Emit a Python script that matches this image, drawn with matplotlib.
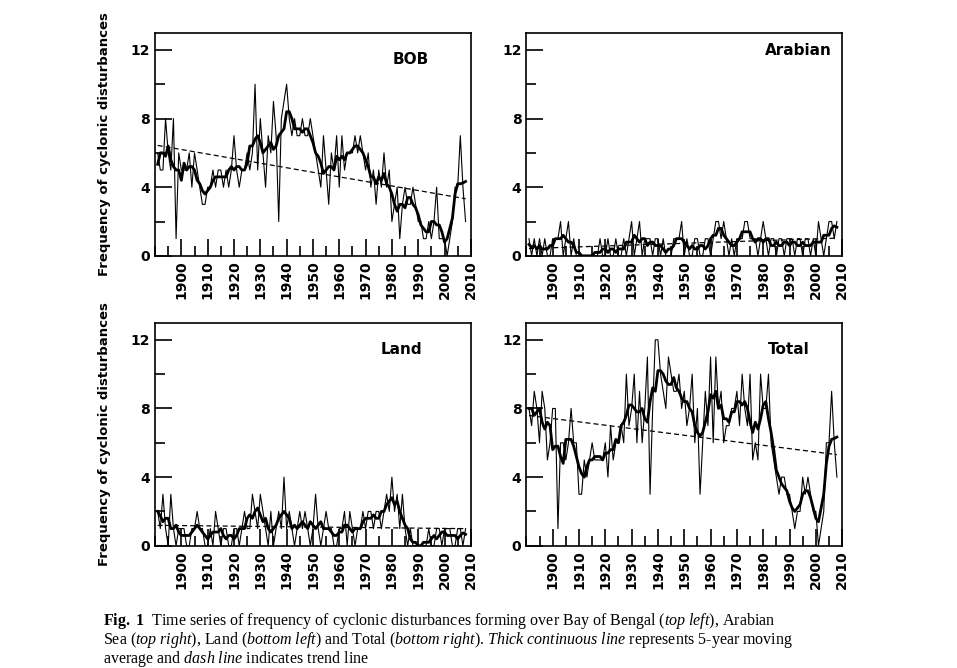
import numpy as np
import pandas as pd
import matplotlib
matplotlib.use('Agg')
import matplotlib.pyplot as plt
from matplotlib.ticker import MultipleLocator

plt.rcParams['mathtext.fontset'] = 'custom'
plt.rcParams['mathtext.rm'] = 'Liberation Serif'
plt.rcParams['mathtext.it'] = 'Liberation Serif:italic'
plt.rcParams['mathtext.bf'] = 'Liberation Serif:bold'

years = np.arange(1891, 2009)

bob = [6, 5, 5, 8, 6, 5, 8, 1, 6, 5,
       5, 5, 6, 4, 6, 5, 4, 3, 3, 4,
       4, 5, 4, 5, 5, 4, 5, 4, 5, 7,
       5, 4, 5, 5, 6, 5, 6, 10, 5, 8,
       6, 4, 7, 6, 9, 7, 2, 8, 9, 10,
       8, 7, 8, 7, 7, 8, 7, 7, 8, 7,
       6, 5, 4, 7, 5, 3, 6, 5, 7, 4,
       7, 5, 6, 6, 6, 7, 6, 7, 6, 5,
       6, 4, 5, 3, 5, 4, 6, 4, 5, 2,
       3, 4, 1, 3, 4, 3, 3, 4, 3, 2,
       2, 1, 1, 2, 1, 2, 4, 1, 1, 1,
       0, 1, 2, 4, 4, 7, 4, 2]
arabian = [1, 0, 1, 0, 1, 0, 1, 0, 0, 1,
           1, 1, 2, 0, 1, 2, 0, 1, 0, 0,
           0, 0, 0, 0, 0, 0, 0, 1, 0, 0,
           1, 0, 0, 1, 0, 0, 1, 0, 1, 2,
           0, 1, 2, 0, 1, 1, 1, 0, 1, 1,
           0, 1, 0, 0, 0, 1, 1, 1, 2, 0,
           1, 0, 0, 1, 1, 0, 0, 1, 1, 0,
           1, 2, 2, 1, 2, 1, 0, 1, 0, 1,
           1, 1, 2, 2, 1, 1, 1, 0, 1, 2,
           1, 0, 1, 1, 0, 1, 1, 0, 1, 1,
           1, 0, 1, 1, 0, 1, 1, 0, 1, 0,
           2, 1, 0, 1, 2, 2, 1, 2]
land = [2, 1, 3, 1, 0, 3, 1, 0, 1, 1,
        1, 0, 0, 1, 1, 2, 1, 1, 0, 0,
        1, 0, 2, 1, 0, 1, 1, 0, 0, 1,
        1, 0, 1, 2, 1, 1, 3, 2, 1, 3,
        2, 1, 0, 2, 0, 1, 2, 1, 4, 1,
        2, 1, 0, 1, 2, 1, 2, 1, 0, 1,
        3, 1, 0, 1, 2, 1, 1, 0, 0, 1,
        1, 2, 0, 2, 1, 0, 1, 1, 2, 1,
        2, 2, 1, 2, 2, 1, 2, 3, 2, 4,
        2, 3, 1, 3, 1, 0, 1, 0, 0, 0,
        0, 0, 0, 1, 0, 0, 1, 1, 0, 1,
        1, 1, 0, 0, 1, 1, 0, 1]
total = [8, 7, 9, 8, 6, 9, 8, 5, 6, 8,
         8, 1, 6, 6, 5, 6, 8, 6, 6, 3,
         3, 5, 4, 5, 6, 5, 5, 5, 5, 6,
         4, 7, 5, 6, 6, 7, 6, 10, 7, 8,
         10, 6, 9, 6, 8, 11, 3, 8, 12, 12,
         10, 9, 8, 11, 10, 9, 9, 10, 8, 9,
         7, 8, 10, 6, 8, 3, 6, 9, 7, 11,
         6, 11, 8, 9, 6, 7, 7, 8, 8, 9,
         7, 10, 8, 7, 10, 5, 6, 5, 10, 8,
         8, 10, 6, 5, 4, 3, 4, 4, 3, 3,
         2, 1, 2, 2, 4, 3, 4, 3, 2, 2,
         0, 1, 2, 6, 6, 9, 6, 4]

panels = [('BOB', bob, 0.162, 0.617, (0.81, 0.88)),
          ('Arabian', arabian, 0.550, 0.617, (0.86, 0.92)),
          ('Land', land, 0.162, 0.183, (0.78, 0.88)),
          ('Total', total, 0.550, 0.183, (0.83, 0.88))]

fig = plt.figure(figsize=(9.57, 6.68), dpi=100)
for name, vals, x0, y0, lpos in panels:
    ax = fig.add_axes([x0, y0, 0.330, 0.334])
    v = np.array(vals, dtype=float)
    ma = pd.Series(v).rolling(5, center=True, min_periods=1).mean()
    p = np.polyfit(years, v, 1)
    ax.plot(years, v, color='black', lw=0.8)
    ax.plot(years, ma, color='black', lw=2.0)
    ax.plot(years, np.polyval(p, years), color='black', lw=0.9, ls=(0, (4, 2.5)))
    ax.set_xlim(1890, 2010)
    ax.set_ylim(0, 13)
    ax.xaxis.set_major_locator(MultipleLocator(10))
    ax.xaxis.set_minor_locator(MultipleLocator(5))
    ax.yaxis.set_major_locator(MultipleLocator(4))
    ax.yaxis.set_minor_locator(MultipleLocator(2))
    ax.set_xticks(np.arange(1900, 2011, 10))
    ax.tick_params(axis='x', which='major', direction='in', length=12, width=1.2, top=False)
    ax.tick_params(axis='x', which='minor', direction='in', length=7, width=1.2)
    ax.tick_params(axis='y', which='major', direction='in', length=12, width=1.2)
    ax.tick_params(axis='y', which='minor', direction='in', length=7, width=1.2)
    for lab in ax.get_xticklabels():
        lab.set_rotation(90)
        lab.set_fontweight('bold')
        lab.set_fontsize(10)
    for lab in ax.get_yticklabels():
        lab.set_fontweight('bold')
        lab.set_fontsize(10)
    for s in ax.spines.values():
        s.set_linewidth(1.2)
    ax.text(lpos[0], lpos[1], name, transform=ax.transAxes, ha='center', va='center',
            fontsize=11, fontweight='bold')
    if x0 < 0.3:
        ax.set_ylabel('Frequency of cyclonic disturbances', fontsize=9.5, fontweight='bold', labelpad=14)

cap = [r'$\mathbf{Fig.\ 1}$  Time series of frequency of cyclonic disturbances forming over Bay of Bengal ($\it{top\ left}$), Arabian',
       r'Sea ($\it{top\ right}$), Land ($\it{bottom\ left}$) and Total ($\it{bottom\ right}$). $\it{Thick\ continuous\ line}$ represents 5-year moving',
       r'average and $\it{dash\ line}$ indicates trend line']
for i, line in enumerate(cap):
    fig.text(103 / 957, 1 - (621 + 19 * i) / 668, line, fontsize=11.5,
             family='Liberation Serif', va='center', ha='left')

plt.savefig('out.png', dpi=100)
